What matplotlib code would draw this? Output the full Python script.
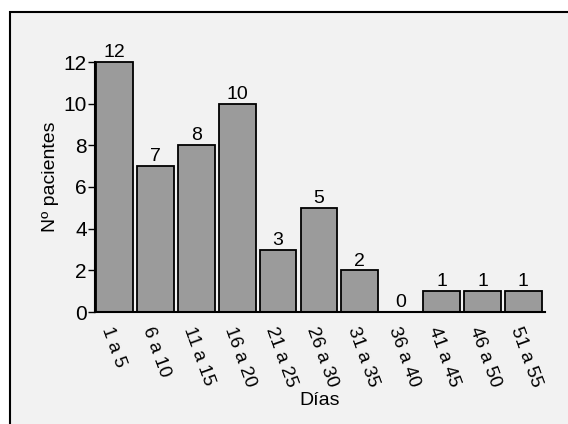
import matplotlib.pyplot as plt
from matplotlib.patches import Rectangle

# Datos
dias = ["1 a 5", "6 a 10", "11 a 15", "16 a 20", "21 a 25", "26 a 30",
        "31 a 35", "36 a 40", "41 a 45", "46 a 50", "51 a 55"]
pacientes = [12, 7, 8, 10, 3, 5, 2, 0, 1, 1, 1]

plt.rcParams['font.family'] = ['Liberation Sans', 'DejaVu Sans']

W, H = 568, 424
fig = plt.figure(figsize=(W / 100, H / 100), dpi=100, facecolor="white")

# marco exterior
fig.patches.append(Rectangle((10 / W, -0.05), 1.1, 1 - 12 / H + 0.05,
                             transform=fig.transFigure, facecolor="#f2f2f2",
                             edgecolor="black", linewidth=1.5, zorder=-10))

# ejes: x 95..545 px, y 0 en 312 px, 12 en 62 px
y0, y12 = 312, 62
ppu = (y0 - y12) / 12
ytop = 13
ax = fig.add_axes([95 / W, 1 - y0 / H, (545 - 95) / W, ytop * ppu / H])
ax.set_facecolor("none")

x = list(range(len(dias)))
bars = ax.bar(x, pacientes, width=0.9, color="#9b9b9b", edgecolor="black",
              linewidth=1.3, zorder=2)
for xi, v in zip(x, pacientes):
    ax.text(xi, v + 0.04, str(v), ha="center", va="bottom", fontsize=14)

ax.set_xlim(-0.48, 10.53)
ax.set_ylim(0, ytop)
ax.set_yticks(range(0, 13, 2))
ax.spines["left"].set_bounds(0, 12)
ax.tick_params(axis="y", labelsize=15, length=5, width=1, pad=1)
ax.set_xticks(x)
ax.set_xticklabels(dias, rotation=-70, ha="left", va="top",
                   rotation_mode="anchor", fontsize=13.5)
ax.tick_params(axis="x", length=0, pad=9)

for s in ["top", "right"]:
    ax.spines[s].set_visible(False)
for s in ["left", "bottom"]:
    ax.spines[s].set_linewidth(1.5)

ax.set_ylabel("Nº pacientes", fontsize=14, labelpad=3)
ax.set_xlabel("Días", fontsize=14, labelpad=2)

fig.savefig("out.png", dpi=100)
